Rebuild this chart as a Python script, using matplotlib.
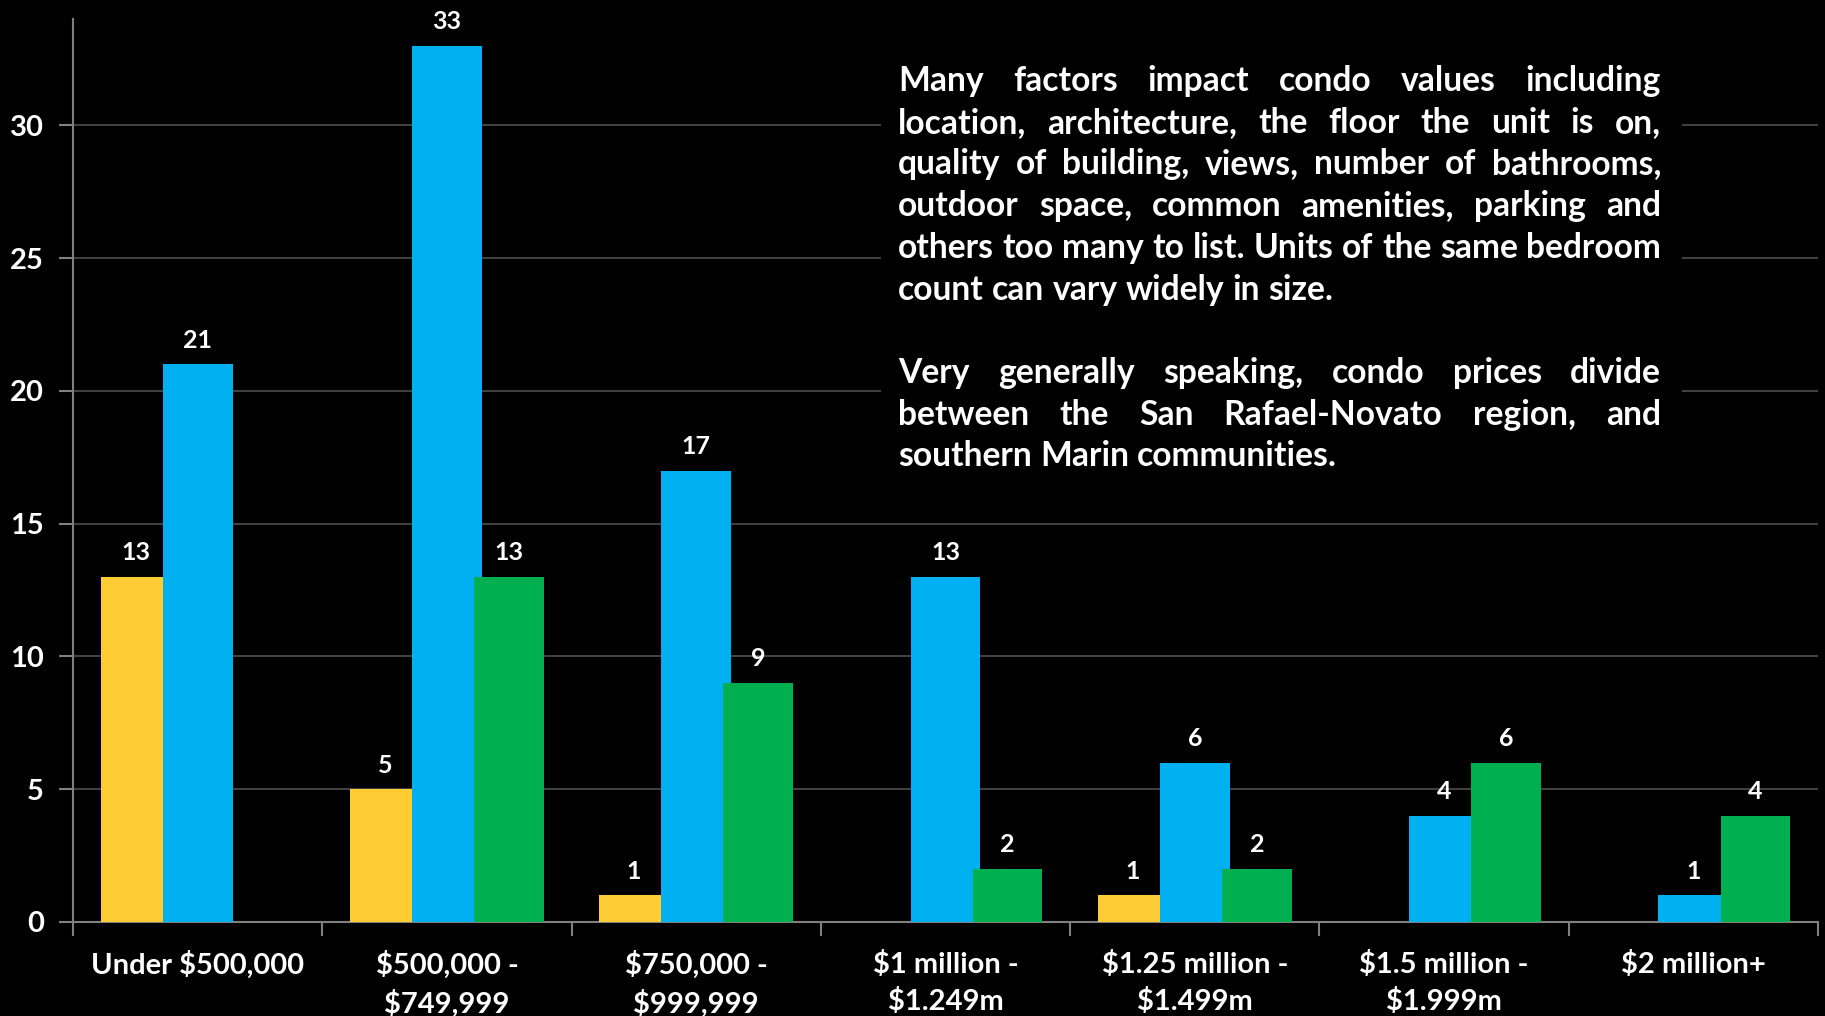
import matplotlib
matplotlib.use("Agg")
from matplotlib import pyplot as plt
import numpy as np

plt.rcParams['font.family'] = ['Lato', 'DejaVu Sans']

# condo sales counts per price band
price_bands = [
    "Under $500,000",
    "$500,000 -\n$749,999",
    "$750,000 -\n$999,999",
    "$1 million -\n$1.249m",
    "$1.25 million -\n$1.499m",
    "$1.5 million -\n$1.999m",
    "$2 million+",
]
yellow_counts = [13, 5, 1, 0, 1, 0, 0]
blue_counts = [21, 33, 17, 13, 6, 4, 1]
green_counts = [0, 13, 9, 2, 2, 6, 4]

y_ticks = [0, 5, 10, 15, 20, 25, 30]

note_lines = [
    "Many factors impact condo values including",
    "location, architecture, the floor the unit is on,",
    "quality of building, views, number of bathrooms,",
    "outdoor space, common amenities, parking and",
    "others too many to list. Units of the same bedroom",
    "count can vary widely in size.",
    "",
    "Very generally speaking, condo prices divide",
    "between the San Rafael-Novato region, and",
    "southern Marin communities.",
]
# lines that end a paragraph are left aligned, the rest justified
last_lines = {5, 9}

W, H = 1825, 1016
fig = plt.figure(figsize=(W / 100, H / 100), dpi=100, facecolor="black")
ax = fig.add_axes([73 / W, 1 - 922 / H, (1818 - 73) / W, (922 - 19) / H])
ax.set_facecolor("black")

x = np.arange(len(price_bands))
step = 0.249
width = 0.28
series = [
    (yellow_counts, "#FFCD33", -step),
    (blue_counts, "#00B0F0", 0.0),
    (green_counts, "#00B050", step),
]

for z, (vals, color, off) in enumerate(series):
    ax.bar(x + off, vals, width=width, color=color, zorder=3 + z, linewidth=0)
    for xi, v in zip(x, vals):
        if v == 0:
            continue
        ax.annotate(
            str(v), (xi + off, v),
            xytext=(0, 9), textcoords="offset points",
            ha="center", va="bottom",
            color="white", fontsize=18, fontweight="bold", zorder=10,
        )

ax.set_xlim(-0.5, len(price_bands) - 0.5)
ax.set_ylim(0, 34)
ax.set_yticks(y_ticks)
ax.set_yticklabels([str(t) for t in y_ticks])
ax.grid(axis="y", color="#404040", linewidth=1.5, zorder=0)

ax.set_xticks(x)
ax.set_xticklabels(price_bands, linespacing=1.45)
ax.set_xticks(np.arange(len(price_bands) + 1) - 0.5, minor=True)
ax.tick_params(axis="x", which="major", length=0, pad=21,
               labelsize=21, labelcolor="white")
ax.tick_params(axis="x", which="minor", length=10, width=1.5,
               color="#808080")
ax.tick_params(axis="y", length=10, width=1.5, color="#808080",
               labelsize=21, labelcolor="white", pad=11)
for lab in ax.get_xticklabels():
    lab.set_fontweight("bold")
    lab.set_verticalalignment("top")
for lab in ax.get_yticklabels():
    lab.set_fontweight("bold")

for side in ["top", "right"]:
    ax.spines[side].set_visible(False)
for side in ["left", "bottom"]:
    ax.spines[side].set_color("#808080")
    ax.spines[side].set_linewidth(1.5)

# black panel behind the note so the grid stops around it
fig.patches.append(plt.Rectangle(
    (881 / W, 1 - 483 / H), (1682 - 881) / W, (483 - 52) / H,
    transform=fig.transFigure, facecolor="black", edgecolor="none",
    zorder=5,
))

# justified note text
left_px, right_px = 898, 1661
first_base, line_gap = 91, 41.7
fig.canvas.draw()
renderer = fig.canvas.get_renderer()


def text_width(s, size):
    t = fig.text(0, 0, s, fontsize=size, fontweight="bold")
    w = t.get_window_extent(renderer).width
    t.remove()
    return w


fs = 24 * (right_px - left_px) / text_width(note_lines[4], 24)
space_w = text_width("a a", fs) - text_width("aa", fs)

for k, line in enumerate(note_lines):
    if not line:
        continue
    words = line.split(" ")
    widths = [text_width(wd, fs) for wd in words]
    if k in last_lines or len(words) == 1:
        gap = space_w
    else:
        gap = (right_px - left_px - sum(widths)) / (len(words) - 1)
    xpos = left_px
    ybase = first_base + line_gap * k
    for wd, ww in zip(words, widths):
        fig.text(xpos / W, 1 - ybase / H, wd, fontsize=fs, fontweight="bold",
                 color="white", ha="left", va="baseline", zorder=6)
        xpos += ww + gap

fig.savefig("out.png", dpi=100, facecolor="black")
plt.close(fig)
